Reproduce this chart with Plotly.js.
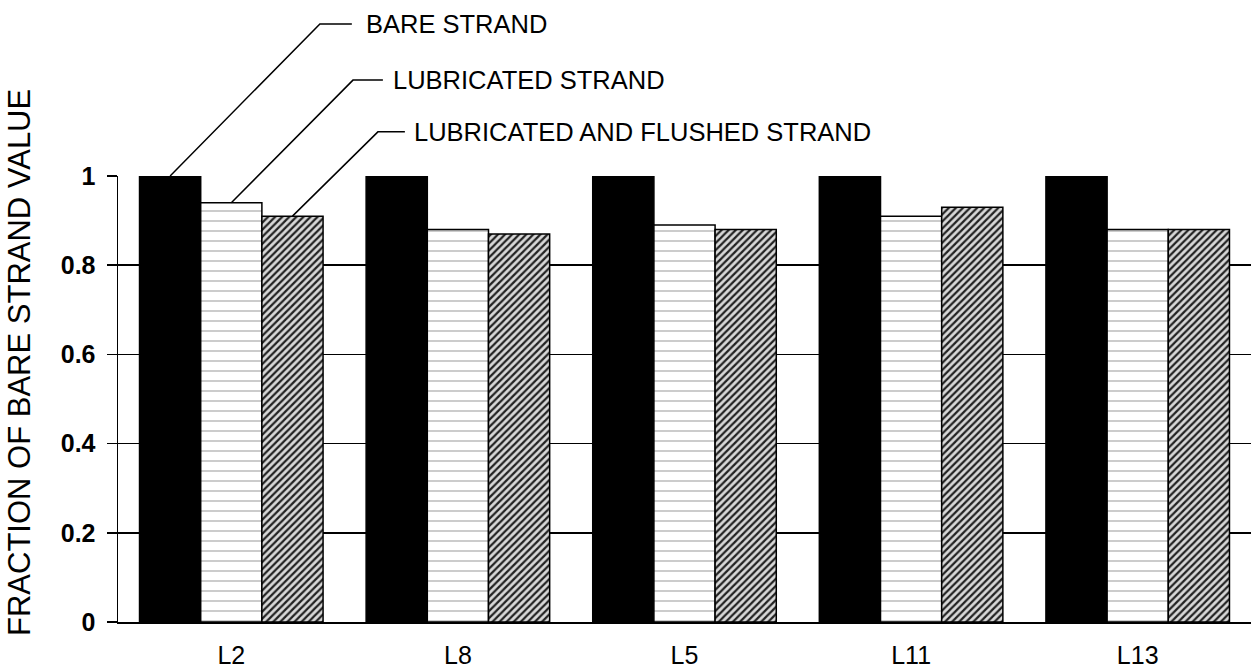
<!DOCTYPE html>
<html>
<head>
<meta charset="utf-8">
<script src="https://cdn.plot.ly/plotly-3.0.1.min.js"></script>
<style>html,body{margin:0;padding:0;background:#fff;}#chart{width:1253px;height:669px;}</style>
</head>
<body>
<div id="chart"></div>
<script>
const categories = ['L2', 'L8', 'L5', 'L11', 'L13'];
const seriesNames = ['BARE STRAND', 'LUBRICATED STRAND', 'LUBRICATED AND FLUSHED STRAND'];
const bareValues = [1.0, 1.0, 1.0, 1.0, 1.0];
const lubricatedValues = [0.94, 0.88, 0.89, 0.91, 0.88];
const flushedValues = [0.91, 0.87, 0.88, 0.93, 0.88];
const yTickValues = [0, 0.2, 0.4, 0.6, 0.8, 1];
const yTickLabels = ['0', '0.2', '0.4', '0.6', '0.8', '1'];

const FONT = 'Liberation Sans, Arial, sans-serif';
const BARGAP = 0.19;
const barWidth = (1 - BARGAP) / 3;

const traces = [
  {
    type: 'bar', name: seriesNames[0], x: categories, y: bareValues,
    marker: {color: '#000', line: {color: '#000', width: 1.5}}
  },
  {
    type: 'bar', name: seriesNames[1], x: categories, y: lubricatedValues,
    marker: {color: '#fff', line: {color: '#000', width: 1.5},
      pattern: {shape: '-', fgcolor: '#999', bgcolor: '#fff', size: 10, solidity: 0.1}}
  },
  {
    type: 'bar', name: seriesNames[2], x: categories, y: flushedValues,
    marker: {color: '#ccc', line: {color: '#000', width: 1.5},
      pattern: {shape: '/', fgcolor: '#222', bgcolor: '#d8d8d8', size: 5, solidity: 0.45}}
  }
];

// leader lines from first category's bars to labels (corner/end/text offsets in category units / paper y)
const leaders = [
  {series: 0, value: bareValues[0], cornerX: 0.391, cornerY: 1.341, endX: 0.532, textX: 0.585},
  {series: 1, value: lubricatedValues[0], cornerX: 0.537, cornerY: 1.215, endX: 0.669, textX: 0.704},
  {series: 2, value: flushedValues[0], cornerX: 0.647, cornerY: 1.099, endX: 0.766, textX: 0.796}
];

const shapes = [];
const annotations = [];
leaders.forEach(l => {
  const startX = (l.series - 1) * barWidth;
  shapes.push({
    type: 'path', xref: 'x', yref: 'paper',
    path: `M ${startX} ${l.value} L ${l.cornerX} ${l.cornerY} L ${l.endX} ${l.cornerY}`,
    line: {color: '#000', width: 1.5}
  });
  annotations.push({
    xref: 'x', yref: 'paper', x: l.textX, y: l.cornerY,
    xanchor: 'left', yanchor: 'middle', showarrow: false,
    text: seriesNames[l.series], font: {family: FONT, size: 25.5, color: '#000'}
  });
});

annotations.push({
  xref: 'paper', yref: 'paper', x: -0.0865, y: 0.583,
  xanchor: 'center', yanchor: 'middle', showarrow: false, textangle: -90,
  text: 'FRACTION OF BARE STRAND VALUE', font: {family: FONT, size: 31, color: '#000'}
});

const layout = {
  width: 1253, height: 669,
  margin: {l: 118, r: 2, t: 176, b: 47, pad: 0},
  paper_bgcolor: '#fff', plot_bgcolor: '#fff',
  showlegend: false,
  barmode: 'group', bargap: BARGAP, bargroupgap: 0,
  font: {family: FONT, color: '#000'},
  xaxis: {
    type: 'category', range: [-0.5, 4.5],
    showline: true, linecolor: '#000', linewidth: 1.5,
    ticks: '', showgrid: false, ticklabelstandoff: 10,
    tickfont: {family: FONT, size: 25, color: '#000'}
  },
  yaxis: {
    range: [0, 1], tickvals: yTickValues, ticktext: yTickLabels,
    showline: true, linecolor: '#000', linewidth: 1.5,
    ticks: 'outside', ticklen: 10, tickwidth: 1.5, tickcolor: '#000',
    showgrid: true, gridcolor: '#000', gridwidth: 1.5,
    zeroline: false, ticklabelstandoff: 6,
    tickfont: {family: FONT, size: 25, color: '#000', weight: 'bold'}
  },
  shapes: shapes,
  annotations: annotations
};

Plotly.newPlot('chart', traces, layout, {displayModeBar: false, staticPlot: true});
</script>
</body>
</html>
